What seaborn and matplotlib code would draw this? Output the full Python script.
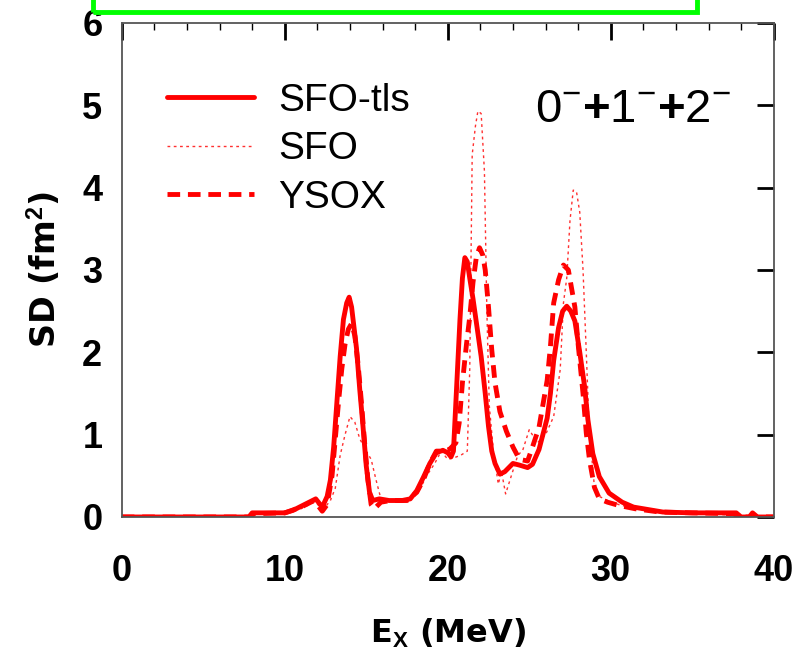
import numpy as np
import pandas as pd
import matplotlib
matplotlib.use("Agg")
import matplotlib.pyplot as plt
from matplotlib.patches import Rectangle
from matplotlib.ticker import MultipleLocator
import seaborn as sns

# ---- data ----
sfo_tls_x = [0, 7.8, 8.0, 10.0, 10.5, 11.0, 11.5, 11.9, 12.3, 12.6, 12.8, 13.0, 13.2, 13.4, 13.6, 13.8,
             13.95, 14.1, 14.25, 14.4, 14.6, 14.8, 15.0, 15.2, 15.4, 15.8, 16.4, 17.2, 17.7, 18.1, 18.5,
             18.9, 19.3, 19.7, 20.0, 20.2, 20.35, 20.45, 20.6, 20.75, 20.9, 21.05, 21.2, 21.35, 21.55,
             21.8, 22.05, 22.3, 22.5, 22.7, 22.9, 23.2, 23.5, 24.0, 24.4, 24.9, 25.2, 25.6, 26.1, 26.3,
             26.5, 26.8, 27.05, 27.3, 27.55, 27.8, 28.1, 28.4, 28.6, 28.9, 29.3, 29.9, 30.7, 31.4, 32.0,
             33.2, 35.0, 37.7, 38.0, 38.5, 38.7, 39.0, 40.0]
sfo_tls_y = [0.0, 0.0, 0.05, 0.05, 0.08, 0.13, 0.18, 0.22, 0.12, 0.25, 0.45, 0.85, 1.4, 1.95, 2.4, 2.6,
             2.67, 2.55, 2.3, 2.05, 1.55, 1.1, 0.62, 0.3, 0.2, 0.22, 0.2, 0.2, 0.22, 0.32, 0.48,
             0.65, 0.78, 0.81, 0.78, 0.73, 0.8, 1.2, 1.8, 2.4, 2.9, 3.15, 3.1, 2.9, 2.65,
             2.3, 1.95, 1.5, 1.1, 0.8, 0.65, 0.52, 0.55, 0.65, 0.63, 0.6, 0.64, 0.82, 1.2, 1.5,
             1.9, 2.3, 2.5, 2.56, 2.5, 2.38, 2.0, 1.58, 1.18, 0.77, 0.49, 0.29, 0.18, 0.12, 0.1,
             0.06, 0.05, 0.05, 0.0, 0.0, 0.05, 0.0, 0.0]

sfo_x = [0, 8.0, 8.1, 10.0, 11.0, 11.8, 12.4, 12.8, 13.1, 13.4, 13.7, 14.0, 14.3, 14.6, 15.0, 15.3,
         15.6, 15.9, 16.5, 17.5, 18.2, 18.7, 19.2, 19.6, 20.0, 20.4, 20.8, 21.2, 21.35, 21.5, 21.7,
         21.85, 22.05, 22.25, 22.4, 22.55, 22.8, 23.1, 23.3, 23.55, 23.9, 24.3, 24.6, 25.0, 25.5,
         26.0, 26.5, 26.9, 27.1, 27.3, 27.5, 27.7, 27.9, 28.1, 28.3, 28.5, 28.65, 28.85, 29.0, 29.3,
         29.8, 30.5, 31.5, 33.0, 36.0, 38.0, 40.0]
sfo_y = [0.0, 0.0, 0.04, 0.05, 0.1, 0.18, 0.1, 0.2, 0.35, 0.75, 1.0, 1.22, 1.15, 0.95, 0.8, 0.7,
         0.45, 0.22, 0.2, 0.2, 0.3, 0.5, 0.65, 0.8, 0.7, 0.72, 0.75, 0.8, 1.8, 4.4, 4.75,
         4.93, 4.9, 4.2, 2.5, 1.35, 0.8, 0.4, 0.55, 0.28, 0.5, 0.75, 0.81, 1.06, 0.9,
         1.0, 1.22, 1.79, 2.6, 2.9, 3.6, 3.97, 3.95, 3.7, 3.0, 2.0, 1.2, 0.7, 0.36, 0.25,
         0.2, 0.15, 0.1, 0.06, 0.05, 0.0, 0.0]

ysox_x = [0, 7.9, 8.1, 10.0, 11.0, 11.8, 12.3, 12.6, 12.9, 13.1, 13.3, 13.5, 13.7, 13.9, 14.1, 14.3,
          14.5, 14.7, 14.9, 15.1, 15.3, 15.5, 15.9, 16.5, 17.5, 18.1, 18.5, 18.9, 19.3, 19.7, 20.1,
          20.5, 20.7, 20.9, 21.15, 21.35, 21.55, 21.75, 21.95, 22.15, 22.3, 22.5, 22.7, 22.9, 23.2,
          23.6, 24.0, 24.4, 24.9, 25.2, 25.6, 26.1, 26.3, 26.5, 26.8, 27.1, 27.4, 27.8, 28.0, 28.3,
          28.5, 28.7, 29.0, 29.3, 29.8, 30.5, 31.5, 33.0, 35.0, 37.5, 38.0, 40.0]
ysox_y = [0.0, 0.0, 0.04, 0.05, 0.12, 0.2, 0.07, 0.15, 0.5, 0.95, 1.4, 1.8, 2.1, 2.28, 2.35, 2.2,
          1.85, 1.4, 0.9, 0.45, 0.15, 0.1, 0.18, 0.2, 0.2, 0.3, 0.45, 0.65, 0.8, 0.8, 0.82,
          0.9, 1.14, 1.63, 2.1, 2.43, 2.85, 3.15, 3.27, 3.18, 3.0, 2.55, 2.03, 1.63, 1.28,
          1.04, 0.85, 0.7, 0.68, 0.85, 1.09, 1.66, 2.07, 2.6, 2.88, 3.06, 3.0, 2.55, 2.1, 1.5,
          1.02, 0.69, 0.36, 0.22, 0.18, 0.14, 0.1, 0.06, 0.05, 0.04, 0.0, 0.0]

series_names = ["SFO-tls", "SFO", "YSOX"]
x_ticks = [0, 10, 20, 30, 40]
y_ticks = [0, 1, 2, 3, 4, 5, 6]

# ---- style ----
sns.set_theme(style="white")
plt.rcParams["font.family"] = ["Liberation Sans", "DejaVu Sans"]
plt.rcParams["mathtext.fontset"] = "custom"
plt.rcParams["mathtext.rm"] = "Liberation Sans"
plt.rcParams["mathtext.it"] = "Liberation Sans"
plt.rcParams["mathtext.bf"] = "Liberation Sans:bold"
for key in ["text.color", "axes.labelcolor", "xtick.color", "ytick.color"]:
    plt.rcParams[key] = "black"

fig = plt.figure(figsize=(7.96, 6.53), dpi=100)
ax = fig.add_axes([0.153, 0.2083, 0.819, 0.7565])

red = "#ff0000"
df1 = pd.DataFrame({"x": sfo_tls_x, "y": sfo_tls_y})
df2 = pd.DataFrame({"x": sfo_x, "y": sfo_y})
df3 = pd.DataFrame({"x": ysox_x, "y": ysox_y})

sns.lineplot(data=df2, x="x", y="y", ax=ax, color="#ff3030", lw=1.0,
             linestyle=(0, (2.0, 2.5)), label=series_names[1], sort=False, estimator=None)
sns.lineplot(data=df3, x="x", y="y", ax=ax, color=red, lw=3.5,
             linestyle=(0, (2.6, 1.6)), label=series_names[2], sort=False, estimator=None)
sns.lineplot(data=df1, x="x", y="y", ax=ax, color=red, lw=3.5,
             linestyle="-", label=series_names[0], sort=False, estimator=None)

ax.set_xlim(0, 40)
ax.set_ylim(0, 6)
ax.set_xticks(x_ticks)
ax.set_yticks(y_ticks)
ax.xaxis.set_minor_locator(MultipleLocator(2))

ax.tick_params(axis="both", which="major", direction="in", length=12, width=2,
               top=True, right=True, colors="black", labelsize=26)
ax.tick_params(axis="both", which="minor", direction="in", length=5, width=1,
               top=True, right=True, colors="black")
ax.tick_params(axis="y", which="minor", left=False, right=False)
ax.tick_params(axis="x", which="major", pad=27)
ax.tick_params(axis="y", which="major", pad=14)
for lab in ax.get_xticklabels() + ax.get_yticklabels():
    lab.set_fontweight("bold")
    lab.set_color("black")

for s in ax.spines.values():
    s.set_color("#555555")
    s.set_linewidth(1.3)

ax.set_xlabel("E$_{\\mathbf{X}}$ (MeV)", fontsize=23, fontweight="bold", color="black",
              family=["DejaVu Sans"], labelpad=20)
ax.set_ylabel("SD (fm$^{\\mathbf{2}}$)", fontsize=24, fontweight="bold", color="black",
              family=["DejaVu Sans"], labelpad=14)

handles, labels = ax.get_legend_handles_labels()
order = [labels.index(n) for n in series_names]
leg = ax.legend([handles[i] for i in order], [labels[i] for i in order],
                loc="upper left", bbox_to_anchor=(0.069, 0.879), frameon=False,
                fontsize=28, handlelength=2.25, handletextpad=0.62,
                labelspacing=0.32, borderpad=0, borderaxespad=0)
for t in leg.get_texts():
    t.set_color("black")

ax.text(0.784, 0.824, r"$0^{-}\mathbf{+}1^{-}\mathbf{+}2^{-}$", transform=ax.transAxes,
        ha="center", va="center", fontsize=34, color="black")

fig.patches.append(Rectangle((0.117, 0.982), 0.759, 0.1, transform=fig.transFigure,
                             fill=False, edgecolor="#00ff00", lw=3.5))

fig.savefig("out.png", dpi=100)
